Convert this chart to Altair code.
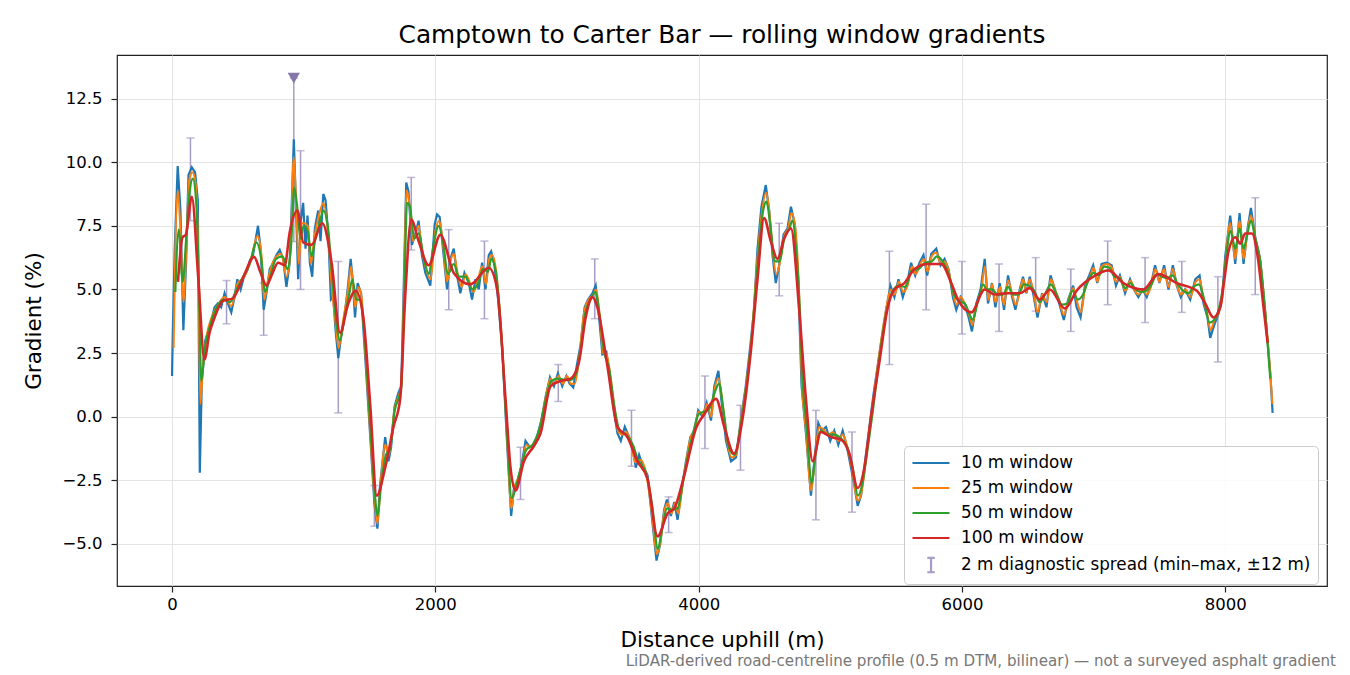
import pandas as pd
import altair as alt

FONT = "DejaVu Sans"

# gradient (%) at distance (m), one list per window
grad_10m = [
    (0, 1.6), (5, 3.1), (20, 6.5), (43, 9.85), (64, 8.1), (86, 3.4), (107, 6.1), (125, 9.5),
    (150, 9.8), (175, 9.6), (196, 8.5), (211, -2.2), (226, 1.35), (252, 3.0), (285, 3.5),
    (323, 4.3), (348, 4.45), (373, 4.3), (399, 4.85), (424, 4.45), (450, 4.1), (475, 4.7),
    (496, 5.4), (521, 5.0), (546, 5.5), (572, 5.75), (592, 6.15), (615, 6.35), (653, 7.5),
    (673, 6.6), (696, 4.2), (717, 4.85), (742, 5.8), (767, 6.05), (793, 6.35), (818, 6.55),
    (844, 6.2), (869, 5.1), (894, 6.05), (912, 8.75), (925, 10.9), (940, 8.5), (958, 5.4),
    (978, 7.7), (996, 8.4), (1014, 6.6), (1029, 7.9), (1047, 6.05), (1065, 5.5), (1085, 7.4),
    (1110, 8.1), (1128, 6.9), (1149, 8.75), (1166, 8.5), (1187, 7.15), (1207, 4.6), (1225, 4.7),
    (1243, 3.35), (1263, 2.3), (1283, 3.1), (1309, 3.9), (1334, 5.0), (1357, 6.2), (1372, 5.4),
    (1390, 3.9), (1410, 5.25), (1436, 4.85), (1466, 2.45), (1504, -0.65), (1537, -3.4),
    (1560, -4.4), (1580, -2.7), (1619, -0.8), (1644, -1.75), (1664, -1.2), (1690, 0.4),
    (1720, 0.95), (1741, 1.2), (1758, 4.7), (1779, 9.2), (1796, 8.85), (1822, 6.75), (1847, 7.15),
    (1873, 7.7), (1898, 6.35), (1924, 5.65), (1962, 5.15), (1995, 7.55), (2013, 7.95), (2033, 7.85),
    (2058, 6.6), (2089, 5.0), (2114, 6.2), (2140, 6.6), (2165, 5.55), (2190, 4.85), (2221, 5.65),
    (2254, 5.25), (2279, 4.6), (2305, 5.4), (2330, 5.0), (2355, 6.05), (2381, 5.0), (2406, 6.35),
    (2424, 6.5), (2449, 5.95), (2475, 4.7), (2508, 2.7), (2541, -0.65), (2576, -3.9), (2596, -2.85),
    (2622, -2.55), (2652, -2.0), (2685, -0.95), (2718, -1.2), (2749, -1.1), (2779, -0.65),
    (2805, -0.15), (2838, 0.8), (2871, 1.55), (2901, 1.2), (2931, 1.7), (2964, 1.2), (2995, 1.6),
    (3020, 1.3), (3048, 1.15), (3074, 2.0), (3104, 2.85), (3134, 4.3), (3160, 4.6), (3193, 4.85),
    (3218, 5.15), (3244, 3.9), (3269, 2.45), (3299, 2.55), (3325, 1.6), (3353, 0.4), (3383, -0.65),
    (3409, -0.95), (3439, -0.4), (3472, -0.8), (3497, -1.2), (3523, -2.0), (3548, -1.5),
    (3574, -1.9), (3612, -2.3), (3650, -4.2), (3680, -5.65), (3708, -5.0), (3738, -3.65),
    (3759, -3.25), (3789, -3.9), (3815, -3.35), (3840, -4.05), (3871, -2.85), (3904, -1.75),
    (3937, -0.8), (3967, -0.55), (3997, 0.25), (4030, 0.0), (4061, 0.55), (4094, -0.15),
    (4119, 1.2), (4150, 1.8), (4175, 0.55), (4208, -0.95), (4246, -1.75), (4284, -1.6),
    (4320, -0.15), (4358, 1.2), (4396, 2.95), (4421, 4.2), (4447, 6.6), (4477, 8.25), (4510, 9.1),
    (4536, 8.1), (4561, 6.35), (4586, 5.25), (4612, 5.95), (4645, 7.15), (4675, 7.4), (4701, 8.25),
    (4731, 7.55), (4756, 5.4), (4782, 1.2), (4815, -0.65), (4853, -3.1), (4883, -1.5),
    (4909, -0.25), (4934, -0.55), (4967, -0.4), (5000, -0.95), (5030, -0.55), (5061, -1.1),
    (5094, -0.55), (5127, -1.2), (5157, -2.0), (5183, -2.7), (5208, -3.5), (5234, -3.1),
    (5264, -1.75), (5297, -0.4), (5330, 0.95), (5360, 2.0), (5391, 3.1), (5424, 4.2), (5457, 5.15),
    (5487, 4.7), (5518, 5.4), (5551, 4.7), (5584, 5.25), (5614, 6.05), (5645, 5.55), (5678, 6.05),
    (5708, 6.35), (5736, 5.55), (5767, 6.4), (5805, 6.6), (5838, 5.95), (5868, 6.2), (5898, 5.8),
    (5931, 4.7), (5957, 4.2), (5990, 4.7), (6020, 4.45), (6051, 3.9), (6076, 3.35), (6109, 4.45),
    (6142, 5.0), (6173, 6.2), (6198, 4.45), (6228, 5.25), (6254, 4.3), (6287, 5.25), (6320, 4.2),
    (6350, 5.55), (6381, 4.7), (6406, 4.2), (6439, 5.0), (6464, 5.5), (6490, 4.85), (6515, 5.5),
    (6541, 4.85), (6574, 3.9), (6609, 4.85), (6642, 4.3), (6673, 5.55), (6706, 5.0), (6739, 4.45),
    (6774, 3.8), (6807, 4.6), (6845, 5.15), (6871, 4.3), (6901, 3.9), (6934, 5.15), (6967, 5.55),
    (6997, 5.95), (7028, 5.25), (7061, 6.0), (7099, 6.05), (7137, 5.95), (7170, 5.15), (7200, 5.55),
    (7239, 4.85), (7277, 5.4), (7307, 5.0), (7340, 4.7), (7373, 5.0), (7404, 4.7), (7434, 5.15),
    (7467, 5.95), (7500, 5.25), (7536, 5.95), (7569, 5.0), (7602, 5.95), (7632, 5.15), (7662, 4.7),
    (7695, 5.0), (7734, 4.6), (7772, 5.4), (7805, 5.55), (7835, 4.45), (7865, 3.9), (7886, 3.1),
    (7916, 3.6), (7949, 4.05), (7975, 4.6), (8000, 6.3), (8038, 7.9), (8076, 6.0), (8109, 8.0),
    (8139, 6.0), (8170, 7.4), (8195, 8.2), (8228, 7.05), (8266, 6.15), (8304, 4.05), (8342, 1.7),
    (8360, 0.15),
]

grad_25m = [
    (12, 2.7), (43, 8.9), (64, 7.3), (86, 4.5), (110, 6.8), (130, 9.3), (155, 9.6), (180, 9.1),
    (200, 6.0), (215, 0.5), (235, 2.0), (260, 3.1), (300, 3.9), (350, 4.4), (400, 4.7), (450, 4.35),
    (500, 5.25), (550, 5.5), (600, 6.2), (650, 7.1), (680, 6.3), (700, 4.6), (730, 5.4), (780, 6.2),
    (830, 6.4), (870, 5.5), (900, 6.5), (925, 10.2), (945, 8.0), (962, 6.0), (985, 7.6), (1005, 7.6),
    (1030, 7.5), (1055, 6.0), (1080, 7.0), (1110, 7.8), (1150, 8.4), (1185, 7.2), (1215, 5.0),
    (1240, 3.8), (1265, 2.7), (1300, 3.8), (1335, 4.9), (1360, 5.9), (1392, 4.3), (1415, 5.1),
    (1440, 4.7), (1470, 2.4), (1505, -0.6), (1540, -3.3), (1560, -4.2), (1585, -2.6), (1620, -1.1),
    (1645, -1.5), (1690, 0.3), (1740, 1.2), (1760, 4.5), (1782, 8.9), (1800, 8.5), (1830, 6.9),
    (1873, 7.5), (1900, 6.5), (1930, 5.8), (1965, 5.4), (2000, 7.3), (2030, 7.7), (2060, 6.7),
    (2090, 5.3), (2115, 6.1), (2140, 6.4), (2170, 5.6), (2200, 5.1), (2230, 5.6), (2260, 5.3),
    (2290, 4.9), (2320, 5.3), (2355, 5.9), (2385, 5.2), (2410, 6.2), (2430, 6.35), (2460, 5.8),
    (2480, 4.7), (2510, 2.6), (2545, -0.8), (2578, -3.6), (2600, -2.8), (2630, -2.4), (2660, -1.9),
    (2690, -1.1), (2720, -1.2), (2760, -1.0), (2800, -0.3), (2840, 0.8), (2875, 1.5), (2905, 1.3),
    (2935, 1.6), (2970, 1.3), (3000, 1.6), (3030, 1.3), (3060, 1.3), (3090, 2.2), (3130, 4.1),
    (3165, 4.6), (3200, 4.8), (3220, 5.0), (3250, 3.9), (3275, 2.5), (3300, 2.45), (3330, 1.6),
    (3360, 0.4), (3390, -0.6), (3420, -0.7), (3450, -0.6), (3480, -0.9), (3520, -1.8), (3560, -1.7),
    (3600, -2.2), (3650, -4.0), (3682, -5.4), (3710, -4.9), (3740, -3.7), (3765, -3.4), (3795, -3.8),
    (3820, -3.4), (3845, -3.8), (3875, -2.8), (3905, -1.8), (3940, -0.8), (3970, -0.5), (4000, 0.2),
    (4035, 0.1), (4065, 0.5), (4095, 0.0), (4122, 1.1), (4152, 1.5), (4180, 0.6), (4215, -0.9),
    (4250, -1.6), (4285, -1.5), (4320, -0.2), (4360, 1.2), (4400, 3.0), (4450, 6.4), (4480, 8.0),
    (4512, 8.8), (4540, 7.9), (4565, 6.4), (4590, 5.6), (4615, 6.0), (4650, 7.1), (4680, 7.4),
    (4705, 8.0), (4735, 7.4), (4760, 5.3), (4785, 1.3), (4815, -0.5), (4855, -2.9), (4885, -1.5),
    (4915, -0.4), (4950, -0.5), (4985, -0.7), (5020, -0.6), (5060, -0.95), (5095, -0.7),
    (5130, -1.2), (5160, -1.9), (5210, -3.3), (5240, -2.9), (5270, -1.7), (5300, -0.4), (5360, 2.0),
    (5420, 4.1), (5460, 5.0), (5490, 4.8), (5520, 5.3), (5555, 4.9), (5590, 5.2), (5620, 5.9),
    (5650, 5.6), (5680, 5.95), (5710, 6.2), (5740, 5.7), (5770, 6.3), (5805, 6.45), (5840, 6.0),
    (5870, 6.1), (5900, 5.7), (5935, 4.8), (5960, 4.4), (5990, 4.7), (6025, 4.4), (6055, 4.0),
    (6080, 3.6), (6110, 4.4), (6145, 4.9), (6175, 5.9), (6200, 4.6), (6230, 5.2), (6255, 4.5),
    (6290, 5.1), (6320, 4.4), (6350, 5.35), (6385, 4.75), (6410, 4.4), (6440, 4.95), (6465, 5.4),
    (6490, 4.9), (6515, 5.4), (6545, 4.9), (6575, 4.1), (6610, 4.8), (6645, 4.5), (6675, 5.4),
    (6710, 4.95), (6740, 4.55), (6775, 4.0), (6810, 4.6), (6845, 5.05), (6875, 4.5), (6905, 4.1),
    (6935, 5.05), (6970, 5.45), (7000, 5.85), (7030, 5.3), (7060, 5.9), (7100, 6.0), (7140, 5.85),
    (7170, 5.3), (7200, 5.5), (7240, 4.95), (7280, 5.35), (7310, 5.0), (7340, 4.8), (7375, 5.0),
    (7405, 4.8), (7435, 5.1), (7470, 5.8), (7500, 5.3), (7535, 5.8), (7570, 5.1), (7600, 5.8),
    (7635, 5.15), (7665, 4.8), (7700, 5.0), (7735, 4.7), (7775, 5.3), (7805, 5.4), (7835, 4.6),
    (7865, 4.0), (7888, 3.4), (7918, 3.8), (7950, 4.1), (7978, 4.7), (8002, 6.1), (8038, 7.6),
    (8076, 6.2), (8109, 7.7), (8139, 6.2), (8170, 7.3), (8195, 7.9), (8228, 7.0), (8266, 6.1),
    (8304, 4.1), (8342, 1.75), (8358, 0.5),
]

grad_50m = [
    (25, 4.9), (51, 7.35), (81, 5.3), (110, 7.2), (135, 8.9), (158, 9.35), (185, 8.3), (205, 5.0),
    (222, 1.4), (250, 2.7), (290, 3.6), (340, 4.3), (390, 4.6), (440, 4.5), (490, 5.0), (540, 5.5),
    (590, 6.0), (640, 6.85), (680, 6.1), (705, 4.9), (740, 5.4), (790, 6.2), (840, 6.3), (875, 5.8),
    (905, 6.8), (928, 9.0), (950, 8.3), (975, 7.0), (1000, 7.5), (1030, 7.3), (1060, 6.3),
    (1090, 7.0), (1120, 7.6), (1150, 8.1), (1185, 7.4), (1215, 5.6), (1250, 3.6), (1275, 3.0),
    (1310, 3.9), (1345, 4.8), (1370, 5.4), (1400, 4.6), (1430, 4.6), (1460, 3.3), (1505, -0.3),
    (1540, -3.0), (1560, -3.9), (1590, -2.6), (1625, -1.5), (1655, -1.3), (1690, 0.2), (1740, 1.1),
    (1762, 4.3), (1785, 8.4), (1805, 8.3), (1840, 7.0), (1875, 7.2), (1910, 6.3), (1950, 5.6),
    (1985, 6.7), (2025, 7.5), (2060, 6.8), (2095, 5.6), (2140, 6.0), (2180, 5.5), (2230, 5.5),
    (2280, 5.0), (2330, 5.3), (2360, 5.8), (2400, 5.7), (2425, 6.2), (2460, 5.7), (2482, 4.6),
    (2512, 2.3), (2545, -0.7), (2580, -3.2), (2610, -2.8), (2650, -2.0), (2690, -1.3), (2740, -1.1),
    (2790, -0.5), (2840, 0.7), (2880, 1.4), (2930, 1.5), (2980, 1.45), (3030, 1.45), (3070, 1.7),
    (3100, 2.5), (3140, 4.1), (3180, 4.6), (3215, 4.9), (3250, 3.9), (3280, 2.6), (3320, 1.9),
    (3360, 0.4), (3400, -0.55), (3450, -0.7), (3500, -1.1), (3540, -1.7), (3600, -2.2),
    (3650, -3.6), (3690, -5.2), (3720, -4.5), (3760, -3.6), (3800, -3.65), (3840, -3.6),
    (3880, -2.6), (3920, -1.5), (3960, -0.6), (4000, 0.1), (4040, 0.2), (4080, 0.3), (4125, 1.0),
    (4155, 1.3), (4190, 0.2), (4230, -1.2), (4275, -1.5), (4320, -0.3), (4360, 1.1), (4400, 2.9),
    (4450, 6.1), (4490, 8.1), (4515, 8.45), (4545, 7.5), (4580, 6.1), (4615, 6.1), (4650, 7.0),
    (4690, 7.4), (4712, 7.7), (4740, 6.6), (4765, 4.6), (4790, 1.4), (4820, -0.4), (4860, -2.6),
    (4890, -1.4), (4930, -0.55), (4980, -0.7), (5030, -0.7), (5080, -0.85), (5130, -1.2),
    (5170, -2.0), (5210, -3.1), (5245, -2.6), (5280, -1.4), (5320, 0.1), (5370, 2.2), (5430, 4.2),
    (5470, 4.9), (5520, 5.15), (5570, 5.1), (5620, 5.75), (5670, 5.8), (5720, 6.05), (5770, 6.1),
    (5810, 6.3), (5860, 6.05), (5900, 5.6), (5940, 4.8), (5975, 4.55), (6020, 4.45), (6060, 4.0),
    (6080, 3.8), (6120, 4.5), (6160, 5.2), (6190, 5.0), (6230, 5.0), (6270, 4.8), (6310, 4.8),
    (6350, 5.1), (6390, 4.8), (6430, 4.8), (6470, 5.2), (6510, 5.15), (6550, 4.95), (6590, 4.5),
    (6630, 4.8), (6675, 5.2), (6720, 4.8), (6760, 4.4), (6800, 4.45), (6840, 4.95), (6880, 4.6),
    (6920, 4.8), (6960, 5.35), (7000, 5.65), (7040, 5.55), (7080, 5.9), (7120, 5.85), (7160, 5.5),
    (7200, 5.45), (7240, 5.05), (7280, 5.25), (7320, 5.0), (7360, 4.9), (7400, 4.95), (7440, 5.2),
    (7480, 5.6), (7520, 5.5), (7560, 5.45), (7600, 5.55), (7640, 5.2), (7680, 4.95), (7720, 4.85),
    (7760, 5.1), (7800, 5.2), (7840, 4.6), (7880, 3.7), (7915, 3.8), (7950, 4.2), (7985, 5.2),
    (8010, 6.4), (8040, 7.3), (8076, 6.6), (8109, 7.4), (8139, 6.6), (8165, 7.1), (8195, 7.7),
    (8228, 7.0), (8266, 6.1), (8304, 4.1), (8342, 1.5),
]

grad_100m = [
    (45, 5.3), (80, 7.05), (105, 7.15), (150, 8.64), (200, 5.4), (246, 2.25), (285, 3.3),
    (323, 3.9), (386, 4.55), (462, 4.65), (510, 5.1), (551, 5.6), (623, 6.28), (670, 5.7),
    (717, 5.15), (760, 5.6), (805, 6.05), (856, 5.95), (894, 7.25), (953, 8.1), (996, 6.85),
    (1060, 6.75), (1141, 7.6), (1212, 6.05), (1276, 3.3), (1339, 4.45), (1395, 4.95), (1453, 3.9),
    (1505, 0.5), (1555, -3.1), (1619, -2.0), (1682, -0.4), (1733, 0.7), (1771, 4.7), (1817, 7.75),
    (1873, 6.9), (1949, 5.95), (2038, 7.15), (2140, 5.65), (2266, 5.2), (2406, 5.85), (2470, 5.0),
    (2533, 0.7), (2571, -2.0), (2609, -2.9), (2673, -1.75), (2749, -1.15), (2799, -0.65),
    (2876, 1.2), (2952, 1.4), (3028, 1.5), (3091, 2.15), (3142, 3.9), (3193, 4.7), (3231, 4.3),
    (3307, 2.0), (3383, -0.4), (3459, -0.8), (3535, -1.75), (3612, -2.45), (3688, -4.7),
    (3764, -3.8), (3815, -3.6), (3891, -2.3), (3980, -0.45), (4043, 0.1), (4132, 0.7), (4195, -0.4),
    (4269, -1.45), (4333, -0.1), (4396, 2.55), (4447, 5.4), (4497, 7.8), (4548, 6.9), (4599, 6.2),
    (4650, 7.0), (4701, 7.4), (4764, 4.2), (4815, 0.7), (4866, -1.75), (4929, -0.6), (5005, -0.8),
    (5081, -0.9), (5145, -1.45), (5208, -2.8), (5259, -2.0), (5310, 0.0), (5373, 2.15), (5437, 4.3),
    (5487, 5.0), (5563, 5.25), (5640, 5.8), (5741, 6.0), (5843, 6.0), (5919, 5.25), (5970, 4.6),
    (6071, 4.1), (6173, 5.0), (6249, 4.8), (6350, 4.85), (6439, 4.85), (6515, 5.05), (6591, 4.6),
    (6668, 5.0), (6782, 4.25), (6871, 4.95), (6997, 5.5), (7112, 5.75), (7226, 5.25), (7378, 5.0),
    (7492, 5.6), (7632, 5.25), (7784, 4.95), (7848, 4.45), (7911, 3.9), (7962, 4.3), (7992, 5.35),
    (8025, 6.5), (8076, 7.05), (8114, 6.8), (8152, 7.2), (8203, 7.2), (8246, 6.3), (8291, 4.3),
    (8322, 2.9),
]

# 2 m diagnostic spread: distance, min, max
spread_bars = [
    (140, 7.7, 10.95), (414, 3.65, 5.35), (696, 3.2, 5.25), (925, 6.88, 13.3), (976, 5.0, 10.45),
    (1263, 0.15, 6.1), (1537, -4.3, -2.7), (1817, 6.55, 9.4), (2102, 4.2, 7.35), (2373, 3.85, 6.9),
    (2647, -3.25, -1.2), (2934, 0.6, 2.05), (3211, 3.85, 6.2), (3490, -1.95, 0.25),
    (3772, -4.55, -3.15), (4048, -1.25, 1.6), (4318, -2.1, 0.45), (4612, 4.75, 7.6),
    (4891, -4.05, 0.25), (5165, -3.75, -0.6), (5449, 2.05, 6.5), (5728, 4.2, 8.35),
    (6000, 3.25, 6.1), (6282, 3.35, 6.0), (6560, 4.15, 6.25), (6827, 3.35, 5.8), (7107, 4.4, 6.9),
    (7391, 3.7, 6.25), (7670, 4.1, 6.1), (7944, 2.15, 5.5), (8228, 4.8, 8.6),
]

# off-scale marker above the steepest 2 m sample
peak_marker = [(925, 13.3)]

series_names = ["10 m window", "25 m window", "50 m window", "100 m window",
                "2 m diagnostic spread (min\u2013max, \u00b112 m)"]
series_colors = ["#1f77b4", "#ff7f0e", "#2ca02c", "#d62728", "#a89dc6"]
# legend glyphs: a 37 px line, and an error-bar "I" centred on the same slot
line_sym = "M-1,0L3.35,0"
bar_sym = "M1.18,-0.85L1.18,0.85M0.74,-0.85L1.62,-0.85M0.74,0.85L1.62,0.85"

title = "Camptown to Carter Bar \u2014 rolling window gradients"
footnote = ("LiDAR-derived road-centreline profile (0.5 m DTM, bilinear) "
            "\u2014 not a surveyed asphalt gradient")

color_scale = alt.Scale(domain=series_names, range=series_colors)
shape_scale = alt.Scale(domain=series_names, range=[line_sym] * 4 + [bar_sym])
x_scale = alt.Scale(domain=[-418, 8773], nice=False, zero=False)
y_scale = alt.Scale(domain=[-6.65, 14.21], nice=False, zero=False)
x_axis = alt.Axis(values=[0, 2000, 4000, 6000, 8000], format="d", title="Distance uphill (m)",
                  labelPadding=4, titlePadding=17)
y_axis = alt.Axis(values=[-5, -2.5, 0, 2.5, 5, 7.5, 10, 12.5], format=".1f", title="Gradient (%)",
                  labelPadding=9, titlePadding=16)


def line_layer(pairs, color, width, interp):
    df = pd.DataFrame(pairs, columns=["dist", "grad"])
    return alt.Chart(df).mark_line(color=color, strokeWidth=width, interpolate=interp, clip=True).encode(
        x=alt.X("dist:Q", scale=x_scale, axis=x_axis),
        y=alt.Y("grad:Q", scale=y_scale, axis=y_axis),
    )


bars_df = pd.DataFrame(spread_bars, columns=["dist", "lo", "hi"])
bar_color = series_colors[4]

bar_rules = alt.Chart(bars_df).mark_rule(color=bar_color, strokeWidth=1.5).encode(
    x=alt.X("dist:Q", scale=x_scale, axis=x_axis),
    y=alt.Y("lo:Q", scale=y_scale, axis=y_axis),
    y2="hi:Q",
)
cap_lo = alt.Chart(bars_df).mark_tick(color=bar_color, orient="horizontal", size=8, thickness=1.5).encode(
    x="dist:Q", y="lo:Q"
)
cap_hi = alt.Chart(bars_df).mark_tick(color=bar_color, orient="horizontal", size=8, thickness=1.5).encode(
    x="dist:Q", y="hi:Q"
)

peak = alt.Chart(pd.DataFrame(peak_marker, columns=["dist", "grad"])).mark_point(
    shape="triangle-down", filled=True, size=150, color="#8677a9", opacity=1
).encode(x="dist:Q", y="grad:Q")

legend_cfg = alt.Legend(
    title=None, orient="none", legendX=787, legendY=391,
    strokeColor="#cccccc", fillColor="rgba(255,255,255,0.85)", cornerRadius=4, padding=7,
    labelFont=FONT, labelFontSize=16.8, labelColor="#000", labelOffset=30, labelLimit=0,
    symbolSize=289, symbolStrokeWidth=2.2, symbolOpacity=1, rowPadding=6,
)
legend_df = pd.DataFrame({"series": series_names})
legend_layer = alt.Chart(legend_df).mark_point(filled=False, opacity=0).encode(
    color=alt.Color("series:N", scale=color_scale, legend=legend_cfg, sort=series_names),
    shape=alt.Shape("series:N", scale=shape_scale, legend=legend_cfg, sort=series_names),
)

note = alt.Chart(pd.DataFrame({"t": [footnote]})).mark_text(
    align="right", baseline="alphabetic", font=FONT, fontSize=15.1, color="#777777"
).encode(x=alt.value(1219), y=alt.value(611), text="t:N")

chart = alt.layer(
    bar_rules, cap_lo, cap_hi,
    line_layer(grad_10m, series_colors[0], 2.2, "linear"),
    line_layer(grad_25m, series_colors[1], 2.0, "monotone"),
    line_layer(grad_50m, series_colors[2], 2.2, "monotone"),
    line_layer(grad_100m, series_colors[3], 2.6, "monotone"),
    peak, legend_layer, note,
).properties(
    width=1210,
    height=531,
    autosize=alt.AutoSizeParams(type="none"),
    padding={"left": 109, "top": 47, "right": 15, "bottom": 90},
    title=alt.TitleParams(title, font=FONT, fontSize=24.8, fontWeight="normal", color="#000", offset=7),
).configure_view(
    stroke="#222222", strokeWidth=1.2
).configure_axis(
    domain=False, grid=True, gridColor="#e4e4e4", gridWidth=1,
    tickColor="#222222", tickSize=6, tickWidth=1.2,
    labelFont=FONT, labelFontSize=16.5, labelColor="#000",
    titleFont=FONT, titleFontSize=21.5, titleFontWeight="normal", titleColor="#000",
)

chart.save("out.html", embed_options={"renderer": "svg", "actions": False})
